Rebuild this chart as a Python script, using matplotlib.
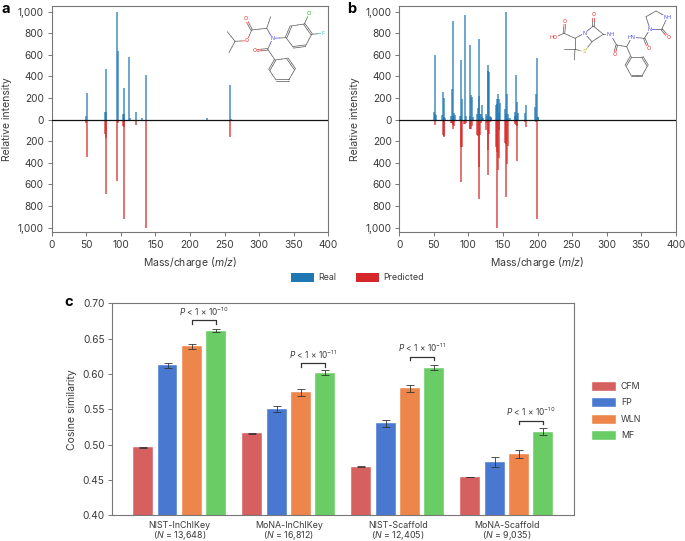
"""Spectra comparison for two molecules and cosine similarity bars."""
from matplotlib import pyplot as plt
from matplotlib.patches import Rectangle
import numpy as np

W, H = 685, 541
plt.rcParams['font.family'] = ['Inter', 'DejaVu Sans']
plt.rcParams['mathtext.fontset'] = 'custom'
plt.rcParams['mathtext.rm'] = 'Inter'
plt.rcParams['mathtext.it'] = 'Inter:italic'
plt.rcParams['mathtext.default'] = 'regular'

TEXT = '#3a3a3a'
SPINE = '#777777'
REAL = '#1f77b4'
PRED = '#d62728'

# panel a spectrum
a_real_mz = [50, 51, 77, 78, 79, 95, 96, 103, 104, 105, 112, 113, 122, 130, 137, 224, 258, 259]
a_real_int = [30, 250, 75, 465, 70, 1000, 640, 55, 55, 295, 580, 15, 75, 12, 410, 12, 325, 10]
a_pred_mz = [50, 51, 52, 53, 65, 66, 77, 78, 79, 94, 95, 96, 103, 104, 105, 122, 130, 137, 154, 258]
a_pred_int = [35, 345, 15, 10, 10, 10, 130, 170, 685, 15, 565, 35, 60, 65, 925, 50, 8, 1000, 5, 160]

# panel b spectrum
b_real_mz = [50, 51, 52, 53, 62, 63, 64, 65, 66, 75, 76, 77, 78, 79, 80, 88, 89, 90, 91, 95, 96,
             102, 103, 104, 105, 106, 113, 114, 115, 116, 117, 118, 119, 120, 121,
             126, 127, 128, 129, 130, 131, 132, 133, 140, 141, 142, 143, 144, 145, 146,
             153, 154, 155, 156, 157, 158, 160, 167, 168, 169, 170, 171, 172,
             182, 184, 197, 198, 199, 200, 201]
b_real_int = [75, 600, 50, 45, 40, 260, 200, 20, 15, 30, 285, 910, 30, 65, 45, 30, 550, 30, 190, 970, 30,
              30, 690, 225, 210, 20, 55, 105, 745, 215, 50, 50, 140, 25, 15,
              50, 30, 510, 450, 445, 30, 20, 15, 140, 145, 190, 235, 190, 60, 150,
              100, 50, 1000, 235, 50, 15, 15, 30, 75, 415, 40, 160, 60,
              60, 140, 115, 240, 575, 25, 20]
b_pred_mz = [50, 51, 52, 62, 63, 64, 65, 66, 75, 76, 77, 78, 79, 88, 89, 90, 91, 94, 95, 96,
             102, 103, 104, 105, 113, 114, 115, 116, 117, 118, 126, 127, 128, 129, 130, 131,
             140, 141, 142, 143, 144, 145, 153, 154, 155, 156, 157,
             167, 168, 169, 170, 171, 182, 184, 198, 199]
b_pred_int = [15, 45, 5, 10, 140, 150, 160, 15, 30, 35, 50, 85, 60, 10, 580, 250, 250, 40, 40, 30,
              90, 90, 85, 60, 145, 150, 435, 735, 145, 30, 100, 30, 510, 280, 130, 20,
              255, 300, 1000, 470, 355, 100, 220, 230, 720, 415, 240,
              20, 40, 50, 55, 385, 20, 65, 20, 925]

spec_ticks = [-1000, -800, -600, -400, -200, 0, 200, 400, 600, 800, 1000]
spec_labels = ['1,000', '800', '600', '400', '200', '0', '200', '400', '600', '800', '1,000']

# panel c
datasets = ['NIST-InChIKey', 'MoNA-InChIKey', 'NIST-Scaffold', 'MoNA-Scaffold']
dataset_n = ['13,648', '16,812', '12,405', '9,035']
methods = ['CFM', 'FP', 'WLN', 'MF']
method_colors = ['#d65f5f', '#4878d0', '#ee854a', '#6acc64']
cfm = [0.496, 0.516, 0.469, 0.454]
fp = [0.612, 0.550, 0.530, 0.476]
wln = [0.639, 0.574, 0.580, 0.487]
mf = [0.661, 0.602, 0.609, 0.518]
cfm_err = [0.0004, 0.0003, 0.0004, 0.0004]
fp_err = [0.003, 0.0045, 0.005, 0.007]
wln_err = [0.004, 0.005, 0.005, 0.006]
mf_err = [0.002, 0.004, 0.003, 0.005]
p_exponents = ['-10', '-11', '-11', '-10']
bracket_tops = [0.676, 0.6155, 0.6245, 0.5335]

# molecule sketches, in pixels of the figure
mol_a_atoms = {
    'me1': (227.3, 31.7), 'ch': (235, 41.3), 'me2': (229, 52.7), 'o1': (247, 40.7),
    'c1': (251.7, 30), 'o2': (245.7, 19), 'ca': (266.7, 28.3), 'me3': (270.7, 16.7),
    'n': (272.7, 38.3), 'r1': (286, 37.7), 'r2': (291, 26), 'r3': (304.3, 24),
    'r4': (311.7, 34.3), 'r5': (305.7, 45.7), 'r6': (293.3, 47.3), 'cl': (309.3, 13.3),
    'f': (322.7, 33.3), 'c2': (267.7, 49.3), 'o3': (255, 50.7), 'p1': (275, 60),
    'p2': (269.3, 70), 'p3': (276, 80), 'p4': (288.7, 80), 'p5': (295, 69.3), 'p6': (287.3, 58.3),
}
mol_a_bonds = [
    ('me1', 'ch', 1), ('ch', 'me2', 1), ('ch', 'o1', 1), ('o1', 'c1', 1), ('c1', 'o2', 2),
    ('c1', 'ca', 1), ('ca', 'me3', 1), ('ca', 'n', 1), ('n', 'r1', 1), ('r1', 'r2', 2),
    ('r2', 'r3', 1), ('r3', 'r4', 2), ('r4', 'r5', 1), ('r5', 'r6', 2), ('r6', 'r1', 1),
    ('r3', 'cl', 1), ('r4', 'f', 1), ('n', 'c2', 1), ('c2', 'o3', 2), ('c2', 'p1', 1),
    ('p1', 'p2', 2), ('p2', 'p3', 1), ('p3', 'p4', 2), ('p4', 'p5', 1), ('p5', 'p6', 2), ('p6', 'p1', 1),
]
mol_a_labels = {'o1': ('O', '#f03030'), 'o2': ('O', '#f03030'), 'o3': ('O', '#f03030'),
                'n': ('N', '#4040f0'), 'cl': ('Cl', '#30b030'), 'f': ('F', '#30c8c8')}

mol_b_atoms = {
    'oh': (554, 37.7), 'c1': (564, 33.3), 'o1': (565, 21.7), 'c2': (575, 38.3), 'n1': (584.3, 33.3),
    'c3': (575, 49.3), 'me1': (564, 49.3), 'me2': (574.3, 60), 's': (584.3, 51.7), 'c4': (592, 41.7),
    'c5': (593.3, 26), 'o2': (593.3, 15), 'c6': (603.3, 34.3), 'nh1': (610.7, 35), 'c7': (616.7, 45),
    'o3': (614.3, 55), 'c8': (626.7, 46.7), 'nh2': (631.7, 37.3), 'c9': (644.3, 38.3), 'o4': (648.3, 48.3),
    'n2': (650, 29.3), 'c10': (646, 16.7), 'c11': (656, 11), 'nh3': (667.3, 17.3), 'c12': (661.7, 29.3),
    'o5': (668.3, 37.3), 'p1': (631, 56.7), 'p2': (625.7, 65.7), 'p3': (631, 75.3), 'p4': (642.3, 75.3),
    'p5': (647.7, 65.7), 'p6': (642.3, 56.7),
}
mol_b_bonds = [
    ('oh', 'c1', 1), ('c1', 'o1', 2), ('c1', 'c2', 1), ('c2', 'n1', 1), ('c2', 'c3', 1), ('c3', 'me1', 1),
    ('c3', 'me2', 1), ('c3', 's', 1), ('s', 'c4', 1), ('c4', 'n1', 1), ('n1', 'c5', 1), ('c5', 'o2', 2),
    ('c5', 'c6', 1), ('c6', 'c4', 1), ('c6', 'nh1', 1), ('nh1', 'c7', 1), ('c7', 'o3', 2), ('c7', 'c8', 1),
    ('c8', 'nh2', 1), ('nh2', 'c9', 1), ('c9', 'o4', 2), ('c9', 'n2', 1), ('n2', 'c10', 1), ('c10', 'c11', 1),
    ('c11', 'nh3', 1), ('nh3', 'c12', 1), ('c12', 'n2', 1), ('c12', 'o5', 2), ('c8', 'p1', 1), ('p1', 'p2', 2),
    ('p2', 'p3', 1), ('p3', 'p4', 2), ('p4', 'p5', 1), ('p5', 'p6', 2), ('p6', 'p1', 1),
]
mol_b_labels = {'oh': ('HO', '#f03030'), 'o1': ('O', '#f03030'), 'o2': ('O', '#f03030'), 'o3': ('O', '#f03030'),
                'o4': ('O', '#f03030'), 'o5': ('O', '#f03030'), 'n1': ('N', '#4040f0'), 'n2': ('N', '#4040f0'),
                'nh1': ('NH', '#4040f0'), 'nh2': ('HN', '#4040f0'), 'nh3': ('NH', '#4040f0'), 's': ('S', '#b8b020')}


def px_axes(fig, left, top, right, bottom):
    return fig.add_axes([left / W, 1 - bottom / H, (right - left) / W, (bottom - top) / H])


def style_axes(ax):
    for spine in ax.spines.values():
        spine.set_color(SPINE)
        spine.set_linewidth(0.8)
    ax.tick_params(colors=TEXT, color=SPINE, labelsize=7.3, length=3, width=0.7, pad=2.5)


def spectrum(ax, real_mz, real_int, pred_mz, pred_int, xpad):
    ax.vlines(real_mz, 0, real_int, color=REAL, lw=1.15, alpha=0.8)
    ax.vlines(pred_mz, 0, -np.array(pred_int), color=PRED, lw=1.15, alpha=0.8)
    ax.axhline(0, color='#111111', lw=0.9, zorder=3)
    ax.set_xlim(0, 400)
    ax.set_ylim(-1041, 1053)
    ax.set_yticks(spec_ticks)
    ax.set_yticklabels(spec_labels)
    ax.set_xticks(range(0, 401, 50))
    style_axes(ax)
    ax.set_xlabel('Mass/charge ($\\mathit{m/z}$)', fontsize=7.5, color=TEXT, labelpad=3.5)
    ax.set_ylabel('Relative intensity', fontsize=7.5, color=TEXT, labelpad=xpad)


def molecule(ax, atoms, bonds, labels):
    for a, b, order in bonds:
        p, q = np.array(atoms[a]), np.array(atoms[b])
        mid = (p + q) / 2
        normal = np.array([-(q - p)[1], (q - p)[0]])
        normal = normal / np.hypot(*normal)
        offsets = [0] if order == 1 else [-0.8, 0.8]
        for off in offsets:
            d = normal * off
            for start, end, name in [(p, mid, a), (q, mid, b)]:
                color = labels[name][1] if name in labels else '#555555'
                ax.plot([start[0] + d[0], end[0] + d[0]], [start[1] + d[1], end[1] + d[1]],
                        color=color, lw=0.55, solid_capstyle='round', alpha=0.9)
    for name, (label, color) in labels.items():
        x, y = atoms[name]
        ax.text(x, y, label, color=color, fontsize=3.8, ha='center', va='center',
                bbox=dict(boxstyle='square,pad=0.05', fc='white', ec='none'))


fig = plt.figure(figsize=(W / 100, H / 100), dpi=100)

ax_a = px_axes(fig, 51.5, 6, 328.5, 232)
spectrum(ax_a, a_real_mz, a_real_int, a_pred_mz, a_pred_int, 4)
ax_b = px_axes(fig, 399.3, 6, 675.7, 232)
spectrum(ax_b, b_real_mz, b_real_int, b_pred_mz, b_pred_int, 4)

# panel c bars
ax_c = px_axes(fig, 112.3, 303.3, 574, 515.3)
series = [cfm, fp, wln, mf]
errors = [cfm_err, fp_err, wln_err, mf_err]
x = np.arange(len(datasets))
pitch, width = 0.223, 0.183
for i, (vals, errs, color) in enumerate(zip(series, errors, method_colors)):
    ax_c.bar(x + (i - 1.5) * pitch, vals, width, color=color, edgecolor='white', linewidth=0.3,
             yerr=errs, error_kw=dict(ecolor='#333333', elinewidth=0.6, capsize=2.6, capthick=0.6))
ax_c.set_xlim(-0.618, 3.617)
ax_c.set_ylim(0.40, 0.70)
ax_c.set_yticks(np.arange(0.40, 0.701, 0.05))
ax_c.set_yticklabels(['{:.2f}'.format(v) for v in np.arange(0.40, 0.701, 0.05)])
ax_c.set_xticks(x)
ax_c.set_xticklabels([])
style_axes(ax_c)
ax_c.tick_params(axis='x', length=0)
ax_c.set_ylabel('Cosine similarity', fontsize=7.5, color=TEXT, labelpad=4)
for i, (top, exp) in enumerate(zip(bracket_tops, p_exponents)):
    x0, x1 = i + 0.5 * pitch, i + 1.5 * pitch
    ax_c.plot([x0, x0, x1, x1], [top - 0.005, top, top, top - 0.005], color='#333333', lw=0.9)
    ax_c.text((x0 + x1) / 2, top + 0.0035, '$\\mathit{{P}}$ < 1 × 10$^{{{}}}$'.format(exp.replace('-', '−')),
              fontsize=6.0, color=TEXT, ha='center', va='bottom')

# overlay in pixel coordinates for legends, panel letters and molecules
ov = fig.add_axes([0, 0, 1, 1], facecolor='none')
ov.set_xlim(0, W)
ov.set_ylim(H, 0)
ov.axis('off')
for i, (d, n) in enumerate(zip(datasets, dataset_n)):
    cx = 179.7 + i * 109
    ov.text(cx, 525, d, fontsize=6.4, color=TEXT, ha='center', va='center')
    ov.text(cx, 535.5, '($\\mathit{{N}}$ = {})'.format(n), fontsize=6.4, color=TEXT, ha='center', va='center')
for lx, tx, color, name in [(291, 318, REAL, 'Real'), (355.7, 383, PRED, 'Predicted')]:
    ov.add_patch(Rectangle((lx, 273), 23.3, 8.5, fc=color, ec='none'))
    ov.text(tx, 277.5, name, fontsize=6.4, color=TEXT, va='center')
for i, (name, color) in enumerate(zip(methods, method_colors)):
    y = 381.7 + i * 16.5
    ov.add_patch(Rectangle((592.3, y), 23.7, 9, fc=color, ec='white', lw=0.3))
    ov.text(621, y + 4.7, name, fontsize=6.4, color=TEXT, va='center')
for letter, lx, ly in [('a', 1.5, 9), ('b', 347, 9), ('c', 64, 301.5)]:
    ov.text(lx, ly, letter, fontsize=10.5, fontweight='bold', color='black', va='center')
molecule(ov, mol_a_atoms, mol_a_bonds, mol_a_labels)
molecule(ov, mol_b_atoms, mol_b_bonds, mol_b_labels)

fig.savefig('out.png', dpi=100)
